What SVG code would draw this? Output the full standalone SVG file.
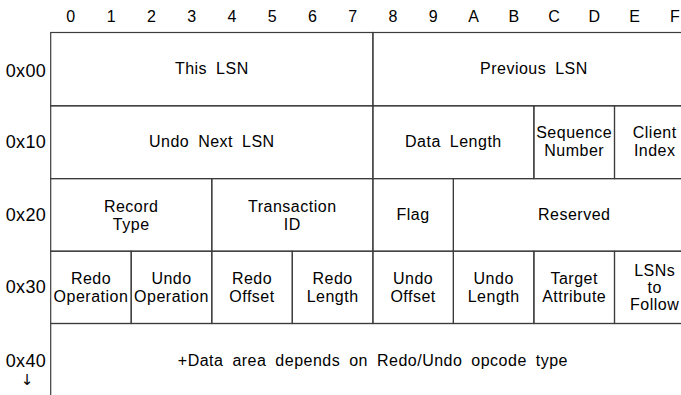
<svg xmlns="http://www.w3.org/2000/svg" width="681" height="395" viewBox="0 0 681 395">
<style>
  text { font-family: "Liberation Sans", Arial, sans-serif; fill: #000; text-anchor: middle; }
  .cell { font-size: 16px; letter-spacing: 0.5px; word-spacing: 4px; }
  .hdr { font-size: 16px; }
  .row text { font-size: 18px; text-anchor: end; letter-spacing: 0.3px; }
  .row text.arrow { font-family: "DejaVu Sans", sans-serif; font-size: 15px; text-anchor: middle; letter-spacing: 0; }
  .box { fill: none; stroke: #3c3c3c; stroke-width: 1.2; }
</style>
<rect x="0" y="0" width="681" height="395" fill="#fff"/>
<g id="header" class="hdr">
  <text x="70.8" y="22">0</text>
  <text x="111.1" y="22">1</text>
  <text x="151.4" y="22">2</text>
  <text x="191.6" y="22">3</text>
  <text x="231.9" y="22">4</text>
  <text x="272.2" y="22">5</text>
  <text x="312.5" y="22">6</text>
  <text x="352.7" y="22">7</text>
  <text x="393" y="22">8</text>
  <text x="433.3" y="22">9</text>
  <text x="473.6" y="22">A</text>
  <text x="513.8" y="22">B</text>
  <text x="554.1" y="22">C</text>
  <text x="594.4" y="22">D</text>
  <text x="634.6" y="22">E</text>
  <text x="674.9" y="22">F</text>
</g>
<g id="connectors"></g>
<g id="this-lsn"><rect class="box" x="50.7" y="32.5" width="322.2" height="73.3"/><text class="cell" x="211.8" y="73.8">This LSN</text></g>
<g id="previous-lsn"><rect class="box" x="372.9" y="32.5" width="322.1" height="73.3"/><text class="cell" x="533.9" y="73.8">Previous LSN</text></g>
<g id="undo-next-lsn"><rect class="box" x="50.7" y="105.8" width="322.2" height="72.8"/><text class="cell" x="211.8" y="147.3">Undo Next LSN</text></g>
<g id="data-length"><rect class="box" x="372.9" y="105.8" width="161" height="72.8"/><text class="cell" x="453.4" y="147.3">Data Length</text></g>
<g id="sequence-number"><rect class="box" x="533.9" y="105.8" width="80.6" height="72.8"/><text class="cell" x="574.2" y="138.3">Sequence</text><text class="cell" x="574.2" y="156.3">Number</text></g>
<g id="client-index"><rect class="box" x="614.5" y="105.8" width="80.5" height="72.8"/><text class="cell" x="654.7" y="138.3">Client</text><text class="cell" x="654.7" y="156.3">Index</text></g>
<g id="record-type"><rect class="box" x="50.7" y="178.6" width="161.1" height="72.6"/><text class="cell" x="131.2" y="211.5">Record</text><text class="cell" x="131.2" y="229.5">Type</text></g>
<g id="transaction-id"><rect class="box" x="211.8" y="178.6" width="161.1" height="72.6"/><text class="cell" x="292.3" y="211.5">Transaction</text><text class="cell" x="292.3" y="229.5">ID</text></g>
<g id="flag"><rect class="box" x="372.9" y="178.6" width="80.5" height="72.6"/><text class="cell" x="413.1" y="220.2">Flag</text></g>
<g id="reserved"><rect class="box" x="453.4" y="178.6" width="241.6" height="72.6"/><text class="cell" x="574.2" y="220.2">Reserved</text></g>
<g id="redo-operation"><rect class="box" x="50.7" y="251.2" width="80.5" height="72.3"/><text class="cell" x="91" y="283.6">Redo</text><text class="cell" x="91" y="301.6">Operation</text></g>
<g id="undo-operation"><rect class="box" x="131.2" y="251.2" width="80.6" height="72.3"/><text class="cell" x="171.5" y="283.6">Undo</text><text class="cell" x="171.5" y="301.6">Operation</text></g>
<g id="redo-offset"><rect class="box" x="211.8" y="251.2" width="80.5" height="72.3"/><text class="cell" x="252" y="283.6">Redo</text><text class="cell" x="252" y="301.6">Offset</text></g>
<g id="redo-length"><rect class="box" x="292.3" y="251.2" width="80.6" height="72.3"/><text class="cell" x="332.6" y="283.6">Redo</text><text class="cell" x="332.6" y="301.6">Length</text></g>
<g id="undo-offset"><rect class="box" x="372.9" y="251.2" width="80.5" height="72.3"/><text class="cell" x="413.1" y="283.6">Undo</text><text class="cell" x="413.1" y="301.6">Offset</text></g>
<g id="undo-length"><rect class="box" x="453.4" y="251.2" width="80.5" height="72.3"/><text class="cell" x="493.7" y="283.6">Undo</text><text class="cell" x="493.7" y="301.6">Length</text></g>
<g id="target-attribute"><rect class="box" x="533.9" y="251.2" width="80.6" height="72.3"/><text class="cell" x="574.2" y="283.6">Target</text><text class="cell" x="574.2" y="301.6">Attribute</text></g>
<g id="lsns-to-follow"><rect class="box" x="614.5" y="251.2" width="80.5" height="72.3"/><text class="cell" x="654.7" y="275.7">LSNs</text><text class="cell" x="654.7" y="292.7">to</text><text class="cell" x="654.7" y="309.7">Follow</text></g>
<g id="data-area"><rect class="box" x="50.7" y="323.5" width="644.3" height="80"/><text class="cell" x="372.9" y="366">+Data area depends on Redo/Undo opcode type</text></g>
<g id="row-labels" class="row">
  <text x="46" y="77">0x00</text>
  <text x="46" y="148.3">0x10</text>
  <text x="46" y="220.7">0x20</text>
  <text x="46" y="293.3">0x30</text>
  <text x="46" y="366.5">0x40</text>
  <text class="arrow" x="27" y="385">↓</text>
</g>
</svg>
